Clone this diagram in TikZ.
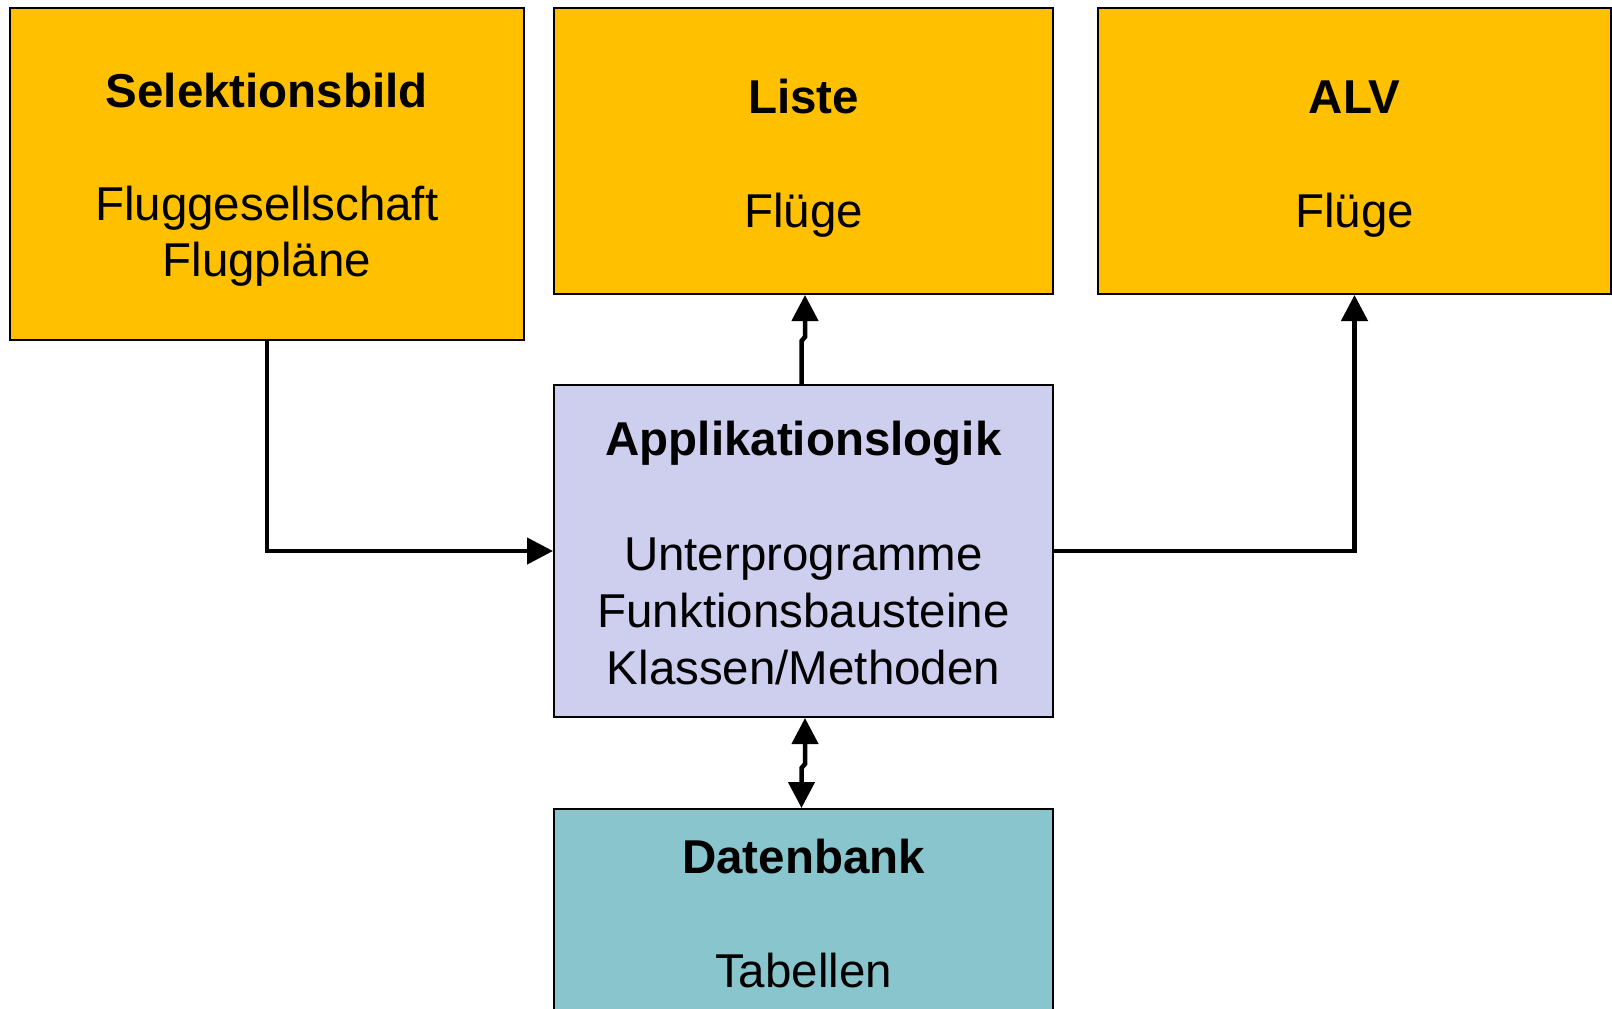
\documentclass[tikz,border=0pt]{standalone}
\usepackage{fontspec}
\setmainfont{Liberation Sans}
\usetikzlibrary{arrows.meta,calc}

\definecolor{boxorange}{HTML}{FFC000}
\definecolor{boxlavender}{HTML}{CECEEE}
\definecolor{boxteal}{HTML}{89C5CD}

\tikzset{
  panel/.style={draw=black, line width=2pt, rectangle, inner sep=0pt},
  heading/.style={anchor=base, inner sep=0pt, font=\fontsize{47.5}{56.5}\selectfont\bfseries},
  body/.style={anchor=base, inner sep=0pt, font=\fontsize{47.5}{56.5}\selectfont},
  conn/.style={line width=4.5pt, line join=miter, -{Triangle[width=26pt,length=26pt]}},
  bothconn/.style={line width=4.5pt, line join=miter, {Triangle[width=26pt,length=26pt]}-{Triangle[width=26pt,length=26pt]}}
}

\begin{document}
\begin{tikzpicture}[x=1pt, y=-1pt]
  \useasboundingbox (0,0) rectangle (1612,1009);
  \clip (0,0) rectangle (1612,1009);

  % boxes
  \node[panel, fill=boxorange, minimum width=514.5, minimum height=332] (sel) at (266.75,173.5) {};
  \node[panel, fill=boxorange, minimum width=499, minimum height=286.5] (lst) at (803.5,150.75) {};
  \node[panel, fill=boxorange, minimum width=513, minimum height=286.5] (alv) at (1354.5,150.75) {};
  \node[panel, fill=boxlavender, minimum width=499, minimum height=332] (app) at (803.5,551) {};
  \node[panel, fill=boxteal, minimum width=499, minimum height=332] (db) at (803.5,975) {};

  % texts
  \node[heading] (selT) at (266.75,107.5) {Selektionsbild};
  \node[body] (selA) at (266.75,220.5) {Fluggesellschaft};
  \node[body] (selB) at (266.75,276.5) {Flugpläne};

  \node[heading] (lstT) at (803.5,113.5) {Liste};
  \node[body] (lstA) at (803.5,227) {Flüge};

  \node[heading] (alvT) at (1354.5,113.5) {ALV};
  \node[body] (alvA) at (1354.5,227) {Flüge};

  \node[heading] (appT) at (803.5,455.5) {Applikationslogik};
  \node[body] (appA) at (803.5,570.5) {Unterprogramme};
  \node[body] (appB) at (803.5,627) {Funktionsbausteine};
  \node[body] (appC) at (803.5,684) {Klassen/Methoden};

  \node[heading] (dbT) at (803.5,873) {Datenbank};
  \node[body] (dbA) at (803.5,987.5) {Tabellen};

  % connectors
  \draw[conn] (sel.south) |- (app.west);
  \draw[conn] ($(app.north)+(-2,0)$) -- ++(0,-43) -- ++(3.5,-4) -- ($(lst.south)+(1.5,0)$);
  \draw[conn] (app.east) -| (alv.south);
  \draw[bothconn] ($(app.south)+(1.5,0)$) -- ++(0,46) -- ++(-3.5,4) -- ($(db.north)+(-2,0)$);
\end{tikzpicture}
\end{document}
